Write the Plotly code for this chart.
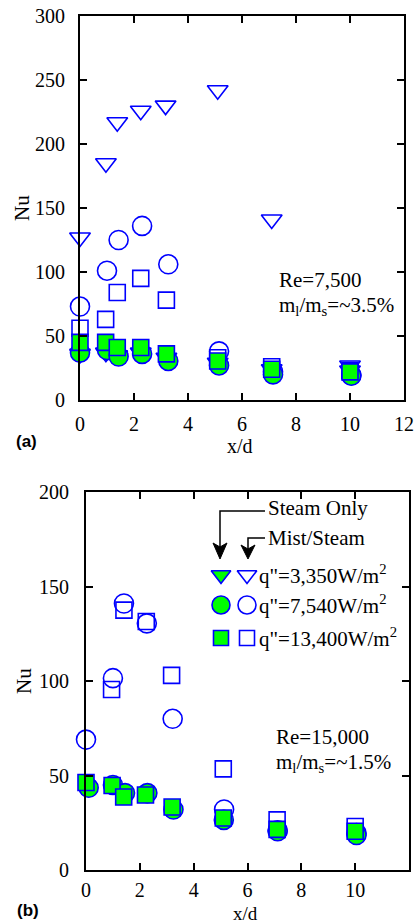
import plotly.graph_objects as go

W, H = 418, 924

# ---------------- data: panel (a) Re=7,500 ----------------
a_tri_mist_x = [0, 0.96, 1.38, 2.25, 3.17, 5.1, 7.1, 10]
a_tri_mist_y = [127, 185, 217, 226, 230, 242, 141, 27]
a_circ_mist_x = [0, 1.0, 1.43, 2.3, 3.27, 5.15, 7.15, 10.05]
a_circ_mist_y = [73, 101, 125, 136, 106, 38, 22, 19.5]
a_sq_mist_x = [0, 0.95, 1.38, 2.25, 3.2, 5.1, 7.1, 10]
a_sq_mist_y = [56, 63, 84, 95, 78, 33, 26, 23]

a_tri_steam_x = [0, 0.96, 1.38, 2.25, 3.2, 5.1, 7.1, 10]
a_tri_steam_y = [36, 37, 35, 37, 33, 29, 24, 23]
a_circ_steam_x = [0, 1.0, 1.43, 2.3, 3.27, 5.15, 7.15, 10.05]
a_circ_steam_y = [37, 39, 34, 36, 30.5, 27, 20, 19]
a_sq_steam_x = [0, 0.95, 1.38, 2.25, 3.2, 5.1, 7.1, 10]
a_sq_steam_y = [45, 45, 41, 41, 36, 30.5, 24, 22]

# ---------------- data: panel (b) Re=15,000 ----------------
b_circ_mist_x = [0, 1.0, 1.41, 2.26, 3.22, 5.13, 7.12, 10.05]
b_circ_mist_y = [69, 101.5, 141, 130.5, 80, 32, 21, 19.5]
b_sq_mist_x = [-0.1, 0.95, 1.41, 2.24, 3.18, 5.1, 7.1, 10]
b_sq_mist_y = [69, 95.5, 137.5, 131.5, 103, 53.5, 26.5, 23]
b_circ_steam_x = [0.1, 1.0, 1.45, 2.28, 3.25, 5.12, 7.12, 10.05]
b_circ_steam_y = [43.5, 45, 40.7, 40.7, 32, 26.5, 20.5, 18.5]
b_sq_steam_x = [0, 0.97, 1.4, 2.21, 3.2, 5.1, 7.1, 10]
b_sq_steam_y = [46.3, 44.7, 38.6, 39.7, 33.3, 27.5, 21.5, 20.5]

x_ticks = [0, 2, 4, 6, 8, 10, 12]
a_y_ticks = [0, 50, 100, 150, 200, 250, 300]
b_y_ticks = [0, 50, 100, 150, 200]

legend_labels = ['q"=3,350W/m<sup>2</sup>', 'q"=7,540W/m<sup>2</sup>', 'q"=13,400W/m<sup>2</sup>']

# ---------------- styling / layout geometry (pixels) ----------------
BLUE = "#0000ff"
GREEN = "#00ff00"
SERIF = "Liberation Serif"

A_L, A_R, A_T, A_B = 80, 404, 16, 400
B_L, B_R, B_T, B_B = 86, 409, 492, 870


def px(x):
    return x / W


def py(y):
    return 1 - y / H


SYM = {"tri": ("triangle-down", 18), "circ": ("circle", 19), "sq": ("square", 16)}

fig = go.Figure()


def add(x, y, kind, filled, xa, ya):
    sym, size = SYM[kind]
    fig.add_trace(go.Scatter(
        x=x, y=y, mode="markers", xaxis=xa, yaxis=ya, cliponaxis=False,
        marker=dict(symbol=sym, size=size,
                    color=GREEN if filled else "rgba(0,0,0,0)",
                    line=dict(color=BLUE, width=1.6)),
        showlegend=False, hoverinfo="x+y"))


# panel (a)
add(a_tri_mist_x, a_tri_mist_y, "tri", False, "x", "y")
add(a_circ_mist_x, a_circ_mist_y, "circ", False, "x", "y")
add(a_sq_mist_x, a_sq_mist_y, "sq", False, "x", "y")
add(a_tri_steam_x, a_tri_steam_y, "tri", True, "x", "y")
add(a_circ_steam_x, a_circ_steam_y, "circ", True, "x", "y")
add(a_sq_steam_x, a_sq_steam_y, "sq", True, "x", "y")

# panel (b)
add(b_circ_mist_x, b_circ_mist_y, "circ", False, "x2", "y2")
add(b_sq_mist_x, b_sq_mist_y, "sq", False, "x2", "y2")
add(b_circ_steam_x, b_circ_steam_y, "circ", True, "x2", "y2")
add(b_sq_steam_x, b_sq_steam_y, "sq", True, "x2", "y2")

# legend keys in panel (b) (positions in pixels converted to data units)
bx_scale = (B_R - B_L) / 12.0
by_scale = (B_B - B_T) / 200.0


def bx(p):
    return (p - B_L) / bx_scale


def by(p):
    return (B_B - p) / by_scale


key_rows = [("tri", 575), ("circ", 605), ("sq", 638)]
key_cols = [(221, True), (247, False)]
for kind, ry in key_rows:
    sym, size = SYM[kind]
    for cx, filled in key_cols:
        fig.add_trace(go.Scatter(
            x=[bx(cx)], y=[by(ry)], mode="markers", xaxis="x2", yaxis="y2",
            cliponaxis=False, hoverinfo="skip", showlegend=False,
            marker=dict(symbol=sym, size=size - 1 if kind != "circ" else 18,
                        color=GREEN if filled else "rgba(0,0,0,0)",
                        line=dict(color=BLUE, width=1.6))))

axis_common = dict(
    showline=True, linecolor="black", linewidth=2, mirror="ticks",
    ticks="inside", ticklen=7, tickwidth=1.5, tickcolor="black",
    showgrid=False, zeroline=False, automargin=False,
    tickfont=dict(family=SERIF, size=20, color="black"),
)

fig.update_layout(
    template="none",
    width=W, height=H, autosize=False,
    margin=dict(l=0, r=0, t=0, b=0, pad=0),
    paper_bgcolor="white", plot_bgcolor="white",
    showlegend=False,
    xaxis=dict(domain=[px(A_L), px(A_R)], range=[0, 12], tickvals=x_ticks,
               anchor="y", ticklabelstandoff=5, **axis_common),
    yaxis=dict(domain=[py(A_B), py(A_T)], range=[0, 300], tickvals=a_y_ticks,
               anchor="x", ticklabelstandoff=9, **axis_common),
    xaxis2=dict(domain=[px(B_L), px(B_R)], range=[0, 12], tickvals=x_ticks,
                anchor="y2", ticklabelstandoff=1, **axis_common),
    yaxis2=dict(domain=[py(B_B), py(B_T)], range=[0, 200], tickvals=b_y_ticks,
                anchor="x2", ticklabelstandoff=11, **axis_common),
)

ann = []


def text(x, y, s, size=21, xanchor="center", family=SERIF, angle=0):
    ann.append(dict(x=px(x), y=py(y), xref="paper", yref="paper", text=s,
                    showarrow=False, xanchor=xanchor, yanchor="middle",
                    textangle=angle,
                    font=dict(family=family, size=size, color="black")))


text(22, 208, "Nu", size=21, angle=-90)
text(240, 446, "x/d", size=20)
text(26, 441, "<b>(a)</b>", size=17, family="Liberation Sans")
text(320, 280, "Re=7,500", size=21)
text(336, 306, "m<sub>l</sub>/m<sub>s</sub>=~3.5%", size=21)

text(24, 681, "Nu", size=21, angle=-90)
text(246, 913, "x/d", size=19)
text(28, 910, "<b>(b)</b>", size=17, family="Liberation Sans")
text(322, 737, "Re=15,000", size=21)
text(333, 763, "m<sub>l</sub>/m<sub>s</sub>=~1.5%", size=21)

text(266, 508, "Steam Only", size=21, xanchor="left")
text(266, 538, "Mist/Steam", size=21, xanchor="left")
for (kind, ry), lab in zip(key_rows, legend_labels):
    text(257, ry - 1, lab, size=21, xanchor="left")

fig.update_layout(annotations=ann)


# arrows (pixel paths converted to paper coords)
def path(points, close=False):
    s = "M " + " L ".join(f"{px(x):.5f},{py(y):.5f}" for x, y in points)
    return s + (" Z" if close else "")


shapes = [
    dict(type="path", xref="paper", yref="paper",
         path=path([(265, 511), (220, 511), (220, 550)]),
         line=dict(color="black", width=1.5)),
    dict(type="path", xref="paper", yref="paper",
         path=path([(213, 543), (220, 559), (227, 543), (220, 547)], close=True),
         fillcolor="black", line=dict(color="black", width=1)),
    dict(type="path", xref="paper", yref="paper",
         path=path([(265, 538), (248, 538), (248, 550)]),
         line=dict(color="black", width=1.5)),
    dict(type="path", xref="paper", yref="paper",
         path=path([(241, 545), (248, 559), (255, 545), (248, 549)], close=True),
         fillcolor="black", line=dict(color="black", width=1)),
]
fig.update_layout(shapes=shapes)

fig.write_html(
    "out.html",
    config={"displayModeBar": False},
    post_script="document.body.style.margin='0';document.body.style.overflow='hidden';",
)
